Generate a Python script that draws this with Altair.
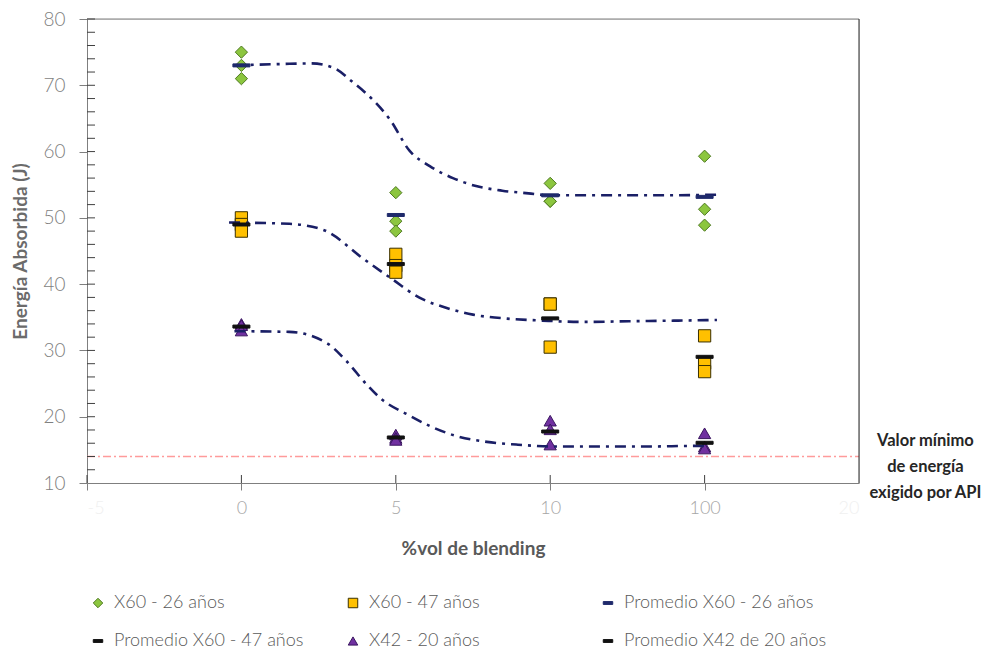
import altair as alt
import pandas as pd

# ---------------- data ----------------
categorias = ["0", "5", "10", "100"]
posiciones = [0, 1, 2, 3]

x60_26 = [[75.0, 73.0, 71.0], [53.8, 49.5, 48.0], [55.2, 52.5, 52.5], [59.3, 51.3, 48.9]]
x60_47 = [[50.0, 49.0, 48.0], [44.5, 42.8, 41.8], [37.0, 37.0, 30.5], [32.2, 28.1, 26.8]]
x42_20 = [[34.0, 33.8, 33.0], [17.3, 16.8, 16.5], [19.4, 18.1, 15.8], [17.5, 15.5, 15.2]]

series = ["X60 - 26 años", "X60 - 47 años", "Promedio X60 - 26 años",
          "Promedio X60 - 47 años", "X42 - 20 años", "Promedio X42 de 20 años"]

curva_sup_x = [-0.05, 0.25, 0.45, 0.6, 0.72, 0.86, 0.96, 1.09, 1.22, 1.37, 1.52, 1.69, 1.86, 2.0, 2.34, 2.73, 3.1]
curva_sup_y = [73.0, 73.2, 73.3, 72.6, 70.5, 67.6, 64.9, 60.1, 57.8, 56.0, 54.8, 54.1, 53.7, 53.4, 53.4, 53.4, 53.5]
curva_med_x = [-0.08, 0.31, 0.54, 0.57, 0.78, 0.98, 1.15, 1.33, 1.50, 1.72, 1.95, 2.21, 2.51, 2.83, 3.08]
curva_med_y = [49.3, 49.1, 48.1, 47.75, 44.0, 40.7, 38.0, 36.4, 35.4, 34.8, 34.5, 34.3, 34.4, 34.5, 34.6]
curva_inf_x = [-0.045, 0.31, 0.56, 0.68, 0.81, 0.91, 1.07, 1.22, 1.39, 1.59, 1.78, 2.04, 2.30, 2.62, 2.94, 3.03]
curva_inf_y = [32.9, 32.8, 31.0, 28.4, 24.9, 22.6, 20.4, 18.6, 17.1, 16.2, 15.8, 15.5, 15.5, 15.5, 15.6, 15.6]

minimo_api = 14
eje_y_ticks = list(range(10, 81, 10))
eje_y_menores = list(range(12, 81, 2))
etiquetas_x = {-1: "-5", 0: "0", 1: "5", 2: "10", 3: "100", 4: "20"}

# ---------------- tables ----------------
rows = []
for nombre, valores in [(series[0], x60_26), (series[1], x60_47), (series[4], x42_20)]:
    for p, c, vals in zip(posiciones, categorias, valores):
        for v in vals:
            rows.append({"pos": p, "cat": c, "valor": v, "serie": nombre})
df_pts = pd.DataFrame(rows)

prom_map = {series[0]: series[2], series[1]: series[3], series[4]: series[5]}
df_prom = df_pts.groupby(["serie", "pos"], as_index=False)["valor"].mean()
df_prom["serie"] = df_prom["serie"].map(prom_map)

df_curvas = pd.concat([
    pd.DataFrame({"pos": curva_sup_x, "valor": curva_sup_y, "curva": "sup"}),
    pd.DataFrame({"pos": curva_med_x, "valor": curva_med_y, "curva": "med"}),
    pd.DataFrame({"pos": curva_inf_x, "valor": curva_inf_y, "curva": "inf"}),
])
one = pd.DataFrame({"k": [0]})

FONT = "Lato"
GRAY = "#7f7f7f"
dash_path = "M-1,-0.3H1V0.3H-1Z"

colores = ["#8cc63f", "#ffc000", "#1f2a6b", "#111111", "#7030a0", "#111111"]
trazos = ["#4f7a22", "#3a3000", "#1f2a6b", "#111111", "#3a1660", "#111111"]
formas = ["diamond", "square", dash_path, dash_path, "triangle-up", dash_path]

xscale = alt.Scale(domain=[-1, 4], nice=False, zero=False)
yscale = alt.Scale(domain=[10, 80], nice=False, zero=False)

label_expr = " : ".join([f"datum.value == {k} ? '{v}'" for k, v in etiquetas_x.items()]) + " : ''"

x_axis = alt.Axis(
    values=[-1, 0, 1, 2, 3, 4], labelExpr=label_expr, title="%vol de blending",
    tickSize=7, tickColor=alt.condition("datum.value == 4", alt.value("transparent"), alt.value(GRAY)),
    domainColor=GRAY,
    labelColor=alt.condition("datum.value == -1 || datum.value == 4", alt.value("#f0f0f0"), alt.value("#a6a6a6")),
    labelFont=FONT, labelFontSize=18, labelFontWeight=300, labelPadding=9,
    titleFont=FONT, titleFontSize=19, titleFontWeight="bold", titleColor="#595959", titlePadding=22,
    grid=False)
y_axis = alt.Axis(
    values=eje_y_ticks, title="Energía Absorbida (J)", tickSize=8, tickColor=GRAY, domainColor=GRAY,
    labelColor=GRAY, labelFont=FONT, labelFontSize=19, labelFontWeight=300, labelPadding=14,
    titleFont=FONT, titleFontSize=19, titleFontWeight="bold", titleColor="#6b6b6b", titlePadding=12,
    grid=False)

legend = alt.Legend(
    title=None, orient="none", legendX=2, legendY=575, columns=3, gridAlign="all", direction="horizontal",
    columnPadding=27, rowPadding=20, symbolSize=90, symbolStrokeWidth=1, labelOffset=7,
    labelFont=FONT, labelFontSize=18, labelFontWeight=300, labelColor="#595959", padding=0,
    labelLimit=400)

color_enc = alt.Color("serie:N", scale=alt.Scale(domain=series, range=colores), legend=legend)
stroke_enc = alt.Stroke("serie:N", scale=alt.Scale(domain=series, range=trazos), legend=legend)
shape_enc = alt.Shape("serie:N", scale=alt.Scale(domain=series, range=formas), legend=legend)

puntos = alt.Chart(df_pts).mark_point(filled=True, size=150, strokeWidth=1, opacity=1).encode(
    x=alt.X("pos:Q", scale=xscale, axis=x_axis),
    y=alt.Y("valor:Q", scale=yscale, axis=y_axis),
    color=color_enc, stroke=stroke_enc, shape=shape_enc,
)

curvas = alt.Chart(df_curvas).mark_line(
    interpolate="monotone", color="#1a1f66", strokeWidth=2.6, strokeDash=[11, 6, 3, 6]
).encode(x="pos:Q", y="valor:Q", detail="curva:N")

promedios = alt.Chart(df_prom).mark_tick(orient="horizontal", size=17, thickness=3, opacity=1).encode(
    x="pos:Q", y="valor:Q", color=color_enc, stroke=stroke_enc,
)

linea_api = alt.Chart(one).mark_rule(color="#ff9b9b", strokeWidth=1.6, strokeDash=[8, 3, 2, 3]).encode(
    x=alt.datum(-1), x2=alt.datum(4), y=alt.datum(minimo_api))

borde_sup = alt.Chart(one).mark_rule(color=GRAY, strokeWidth=1).encode(
    x=alt.datum(-1), x2=alt.datum(4), y=alt.datum(80))
borde_der = alt.Chart(one).mark_rule(color="#262626", strokeWidth=1).encode(
    x=alt.datum(4), y=alt.datum(10), y2=alt.datum(80))

ticks_y = alt.Chart(pd.DataFrame({"v": eje_y_menores})).mark_tick(
    orient="horizontal", size=8, thickness=1, xOffset=4, color="#404040", opacity=1).encode(
    x=alt.datum(-1), y="v:Q")
ticks_x = alt.Chart(pd.DataFrame({"p": [-1] + posiciones})).mark_tick(
    orient="vertical", size=8, thickness=1, yOffset=-4, color="#404040", opacity=1).encode(
    x="p:Q", y=alt.datum(10))

anotacion = alt.Chart(one).mark_text(
    text=["Valor mínimo", "de energía", "exigido por API"], font=FONT, fontSize=16.5, fontWeight="bold",
    color="#262626", align="center", baseline="middle", lineHeight=26, dy=-15, clip=False
).encode(x=alt.datum(4.43), y=alt.datum(minimo_api))

chart = alt.layer(
    linea_api, borde_sup, borde_der, ticks_y, ticks_x, puntos, curvas, promedios, anotacion
).properties(
    width=772, height=464, padding={"left": 3, "top": 2, "right": 0, "bottom": 0}
).configure_view(stroke=None).configure(background="white")

chart.save("out.html", embed_options={"renderer": "svg", "actions": False})
